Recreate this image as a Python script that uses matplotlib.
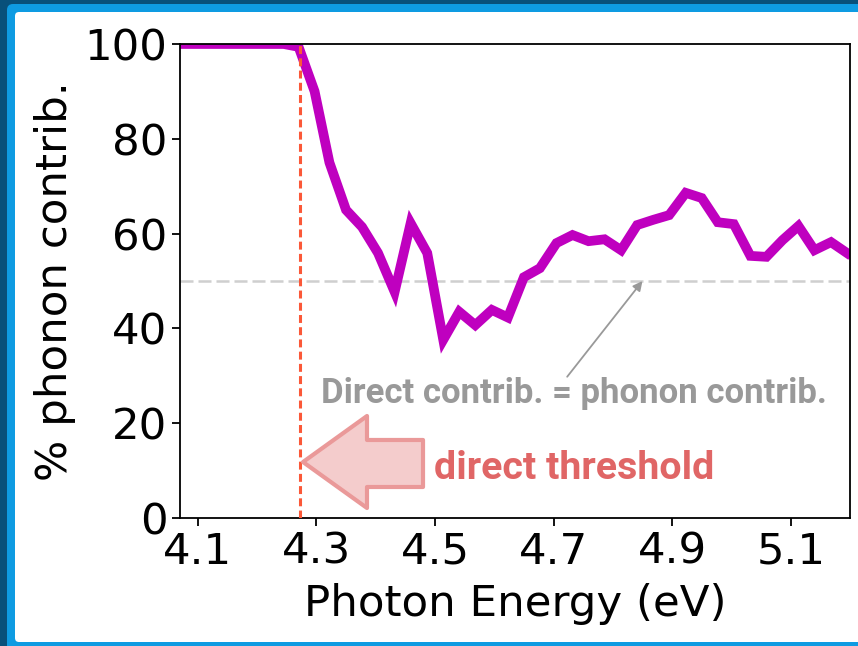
import matplotlib
matplotlib.use("Agg")
import matplotlib.pyplot as plt
from matplotlib.patches import FancyBboxPatch, Polygon
from matplotlib.transforms import IdentityTransform

# photon energy (eV) and share of the absorption coming from phonon-assisted paths
energy = [4.07, 4.10, 4.13, 4.16, 4.19, 4.22, 4.245, 4.27, 4.297, 4.322,
          4.35, 4.377, 4.404, 4.432, 4.459, 4.487, 4.514, 4.541, 4.568, 4.596,
          4.623, 4.650, 4.677, 4.705, 4.732, 4.759, 4.786, 4.814, 4.841, 4.868,
          4.895, 4.923, 4.950, 4.977, 5.004, 5.032, 5.059, 5.086, 5.113, 5.140,
          5.168, 5.195]
phonon = [100, 100, 100, 100, 100, 100, 100, 99.4, 90, 75,
          65, 61.4, 55.9, 47.7, 62.2, 55.9, 37.6, 43.5, 40.7, 43.9,
          42.3, 50.8, 52.7, 58.0, 59.7, 58.4, 58.8, 56.5, 61.8, 62.9,
          63.9, 68.6, 67.5, 62.4, 62.0, 55.3, 55.1, 58.6, 61.6, 56.5,
          58.2, 55.9]

direct_threshold = 4.272
equal_share = 50
xticks = [4.1, 4.3, 4.5, 4.7, 4.9, 5.1]
yticks = [0, 20, 40, 60, 80, 100]

W, H = 858, 646
fig = plt.figure(figsize=(W / 100, H / 100), dpi=100, facecolor="#08507a")

# slide frame: light blue band over dark blue, white panel inside
fig.patches.append(FancyBboxPatch((7, -20), W + 20, H - 4 + 20,
                                  boxstyle="round,pad=0,rounding_size=6",
                                  fc="#0e9be2", ec="none", zorder=-10,
                                  transform=IdentityTransform(), figure=fig))
fig.patches.append(FancyBboxPatch((15, 4), W + 20, H - 16,
                                  boxstyle="round,pad=0,rounding_size=4",
                                  fc="white", ec="none", zorder=-9,
                                  transform=IdentityTransform(), figure=fig))

ax = fig.add_axes([180 / W, 128 / H, 670 / W, 474 / H])
ax.set_facecolor("white")

ax.axhline(equal_share, color="#cfcfcf", lw=1.8, dashes=(5.2, 2.0), zorder=1)
ax.plot(energy, phonon, color="#bf00bf", lw=7, solid_joinstyle="miter", zorder=2)
ax.axvline(direct_threshold, color="#fb5838", lw=2.2, dashes=(2.6, 1.4), zorder=3)

ax.set_xlim(4.07, 5.2)
ax.set_ylim(0, 100)
ax.set_xticks(xticks)
ax.set_yticks(yticks)
ax.set_xticklabels([f"{t:.1f}" for t in xticks])
ax.tick_params(labelsize=31.3, length=5.5, width=1.3, pad=3.5)
for s in ax.spines.values():
    s.set_linewidth(1.3)
ax.set_xlabel("Photon Energy (eV)", fontsize=31.3, labelpad=7.5)
ax.set_ylabel("% phonon contrib.", fontsize=31.3, labelpad=6)

# block arrow pointing at the threshold line
arrow_pts = [(0.1836, 0.1181), (0.2791, 0.2152), (0.2791, 0.1646),
             (0.3627, 0.1646), (0.3627, 0.0654), (0.2791, 0.0654),
             (0.2791, 0.0211)]
ax.add_patch(Polygon(arrow_pts, closed=True, transform=ax.transAxes,
                     fc="#f4cccc", ec="#ea9999", lw=3, joinstyle="round",
                     zorder=4))
ax.text(4.499, 8.3, "direct threshold", fontsize=28.4, fontweight="bold",
        family="Roboto", color="#e06666", ha="left", va="baseline", zorder=5)

ax.text(4.734, 24.2, "Direct contrib. = phonon contrib.", fontsize=25,
        fontweight="bold", family="Roboto", color="#999999",
        ha="center", va="baseline", zorder=5)
ax.annotate("", xy=(4.85, equal_share), xytext=(4.723, 29.8),
            arrowprops=dict(arrowstyle="-|>", color="#999999", lw=1.3,
                            mutation_scale=14, shrinkA=0, shrinkB=0),
            zorder=5)

fig.savefig("out.png", dpi=100, facecolor=fig.get_facecolor())
